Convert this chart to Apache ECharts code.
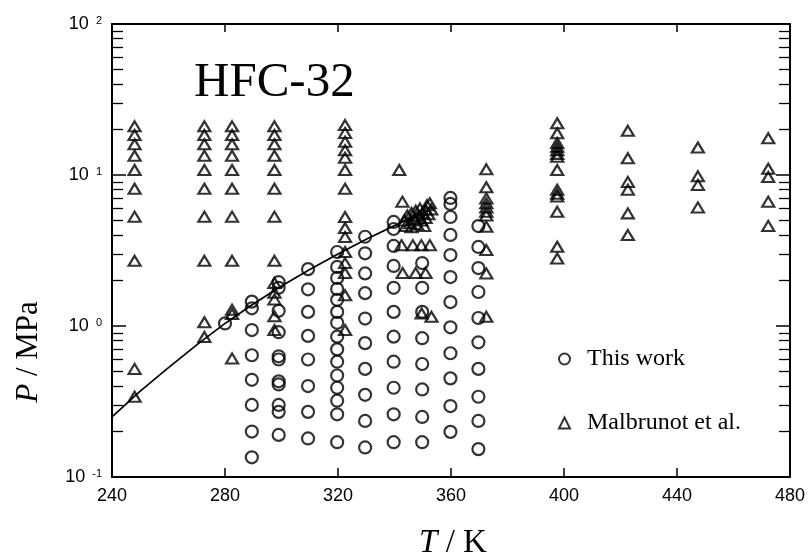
<!DOCTYPE html>
<html>
<head>
<meta charset="utf-8">
<script src="https://cdn.jsdelivr.net/npm/echarts@6/dist/echarts.min.js"></script>
<style>
  html, body { margin: 0; padding: 0; background: #fff; }
  #chart { width: 809px; height: 558px; }
</style>
</head>
<body>
<div id="chart"></div>
<script>
// this work: one temperature per isotherm, pressures (MPa)
var workT = [280, 289.5, 299, 309.4, 319.7, 329.6, 339.7, 349.8, 359.8, 369.7];
var workP = [
  [1.04],
  [1.45, 1.31, 0.94, 0.64, 0.44, 0.30, 0.20, 0.135],
  [1.95, 1.79, 1.26, 0.91, 0.63, 0.60, 0.43, 0.41, 0.30, 0.27, 0.19],
  [2.38, 1.75, 1.24, 0.86, 0.60, 0.40, 0.27, 0.18],
  [3.09, 2.46, 2.08, 1.76, 1.49, 1.24, 1.05, 0.85, 0.70, 0.58, 0.47, 0.39, 0.32, 0.26, 0.17],
  [3.90, 3.03, 2.23, 1.65, 1.12, 0.77, 0.52, 0.35, 0.235, 0.157],
  [4.89, 4.39, 3.39, 2.50, 1.79, 1.24, 0.85, 0.58, 0.39, 0.26, 0.17],
  [2.61, 1.79, 1.24, 0.83, 0.56, 0.38, 0.25, 0.17],
  [7.05, 6.43, 5.27, 4.01, 2.95, 2.11, 1.44, 0.98, 0.66, 0.45, 0.295, 0.199],
  [4.59, 3.34, 2.42, 1.68, 1.13, 0.78, 0.52, 0.34, 0.235, 0.153]
];

// Malbrunot et al. isotherms
var malT = [248, 272.7, 282.5, 297.5, 322.5, 372.5, 397.6, 422.6, 447.4, 472.3];
var malP = [
  [21, 18.4, 16, 13.4, 10.8, 8.1, 5.3, 2.7, 0.52, 0.34],
  [21, 18.4, 16, 13.4, 10.8, 8.1, 5.3, 2.7, 1.06, 0.845],
  [21, 18.4, 16, 13.4, 10.8, 8.1, 5.3, 2.7, 1.28, 1.20, 0.61],
  [21, 18.4, 16, 13.4, 10.8, 8.1, 5.3, 2.7, 1.93, 1.66, 1.50, 1.16, 0.94],
  [21.4, 19, 16.6, 14.6, 13.0, 10.8, 8.1, 5.27, 4.46, 3.88, 3.09, 2.61, 2.24, 1.60, 0.94],
  [10.9, 8.3, 7.0, 6.5, 6.1, 5.7, 5.4, 4.55, 3.19, 2.23, 1.15],
  [22, 18.9, 16.3, 15.4, 14.6, 13.8, 13.2, 10.8, 8.0, 7.5, 7.2, 5.7, 3.35, 2.8],
  [19.6, 12.9, 9.0, 8.0, 5.57, 4.0],
  [15.2, 9.8, 8.6, 6.1],
  [17.5, 11.0, 9.7, 6.66, 4.6]
];
// Malbrunot points near the critical point (scattered, not on isotherms)
var malNearCritT = [341.7, 342.8, 343.5, 344.5, 345.5, 346, 347, 347.5, 348, 348.5, 349, 349.5, 350, 350.5, 351, 351, 351.5, 352, 352.5, 353, 346, 344,
                    342.5, 346.5, 349.5, 352.5, 342.9, 347.5, 351, 349.6, 353.1];
var malNearCritP = [10.8, 6.66, 5.0, 5.4, 4.8, 5.6, 5.1, 5.8, 4.7, 5.4, 6.0, 5.0, 5.6, 4.6, 5.9, 5.2, 6.3, 5.5, 6.5, 5.9, 4.5, 4.6,
                    3.43, 3.43, 3.43, 3.43, 2.24, 2.24, 2.24, 1.21, 1.15];

// saturation curve
var vapT = [240, 250, 260, 270, 280, 290, 300, 310, 320, 330, 340, 350, 351.3];
var vapP = [0.25, 0.37, 0.53, 0.75, 1.04, 1.40, 1.84, 2.37, 3.00, 3.75, 4.62, 5.63, 5.78];

function flatten(ts, ps) {
  var out = [];
  for (var i = 0; i < ts.length; i++) {
    for (var j = 0; j < ps[i].length; j++) out.push([ts[i], ps[i][j]]);
  }
  return out;
}
var workPts = flatten(workT, workP);
var malPts = flatten(malT, malP);
for (var k = 0; k < malNearCritT.length; k++) malPts.push([malNearCritT[k], malNearCritP[k]]);
var vapPts = [];
for (var m = 0; m < vapT.length; m++) vapPts.push([vapT[m], vapP[m]]);

var serif = 'Liberation Serif';
var sans = 'Liberation Sans';
var black = '#000';

var chart = echarts.init(document.getElementById('chart'));

var xCommon = {
  type: 'value', min: 240, max: 480, interval: 40,
  axisLine: { show: true, lineStyle: { color: black, width: 2 } },
  axisTick: { inside: true, length: 9, lineStyle: { color: black, width: 1.5 } },
  splitLine: { show: false }
};
var yCommon = {
  type: 'log', logBase: 10, min: 0.1, max: 100,
  axisLine: { show: true, lineStyle: { color: black, width: 2 } },
  axisTick: { inside: true, length: 14, lineStyle: { color: black, width: 1.5 } },
  minorTick: { show: true, splitNumber: 9, length: 11, lineStyle: { color: black, width: 1.3 } },
  splitLine: { show: false },
  minorSplitLine: { show: false }
};

var option = {
  backgroundColor: '#fff',
  animation: false,
  title: {
    text: 'HFC-32', left: 189, top: 54,
    textStyle: { fontFamily: serif, fontSize: 49, fontWeight: 'normal', color: black }
  },
  grid: { left: 112, top: 24, width: 678, height: 453 },
  legend: {
    orient: 'vertical', left: 553, top: 342, itemGap: 40,
    itemWidth: 11, itemHeight: 11,
    data: ['This work', 'Malbrunot et al.'],
    textStyle: { fontFamily: serif, fontSize: 24, color: black, padding: [0, 0, 0, 12] }
  },
  xAxis: [
    Object.assign({}, xCommon, {
      position: 'bottom',
      axisLabel: { margin: 10, fontFamily: sans, fontSize: 18, color: black }
    }),
    Object.assign({}, xCommon, {
      position: 'top', axisLabel: { show: false }, axisTick: { inside: true, length: 8, lineStyle: { color: black, width: 1.5 } }
    })
  ],
  yAxis: [
    Object.assign({}, yCommon, {
      position: 'left',
      axisLabel: {
        margin: 10, color: black,
        formatter: function (v) {
          var e = Math.round(Math.log(v) / Math.LN10);
          return '{b|10}{e|' + e + '}';
        },
        rich: {
          b: { fontFamily: sans, fontSize: 18, color: black },
          e: { fontFamily: sans, fontSize: 11, color: black, verticalAlign: 'top', padding: [0, 0, 0, 7] }
        }
      }
    }),
    Object.assign({}, yCommon, {
      position: 'right', axisLabel: { show: false }
    })
  ],
  graphic: [
    {
      type: 'text', x: 29, y: 352, rotation: Math.PI / 2,
      style: {
        text: '{i|P} / MPa', align: 'center', verticalAlign: 'middle',
        font: '31px "Liberation Serif"', fill: black,
        rich: { i: { fontFamily: serif, fontStyle: 'italic', fontSize: 31, fill: black } }
      }
    },
    {
      type: 'text', x: 453, y: 543,
      style: {
        text: '{i|T} / K', align: 'center', verticalAlign: 'middle',
        font: '33px "Liberation Serif"', fill: black,
        rich: { i: { fontFamily: serif, fontStyle: 'italic', fontSize: 33, fill: black } }
      }
    }
  ],
  series: [
    {
      name: 'saturation', type: 'line', data: vapPts, showSymbol: false, symbol: 'none',
      lineStyle: { color: black, width: 1.7 }, z: 3, silent: true
    },
    {
      name: 'This work', type: 'scatter', data: workPts, symbol: 'circle', symbolSize: 12,
      itemStyle: { color: 'rgba(255,255,255,0)', borderColor: black, borderWidth: 2.2 }, z: 4
    },
    {
      name: 'Malbrunot et al.', type: 'scatter', data: malPts, symbol: 'triangle', symbolSize: [12, 10],
      itemStyle: { color: 'rgba(255,255,255,0)', borderColor: black, borderWidth: 2.2 }, z: 4
    }
  ]
};
chart.setOption(option);
</script>
</body>
</html>
